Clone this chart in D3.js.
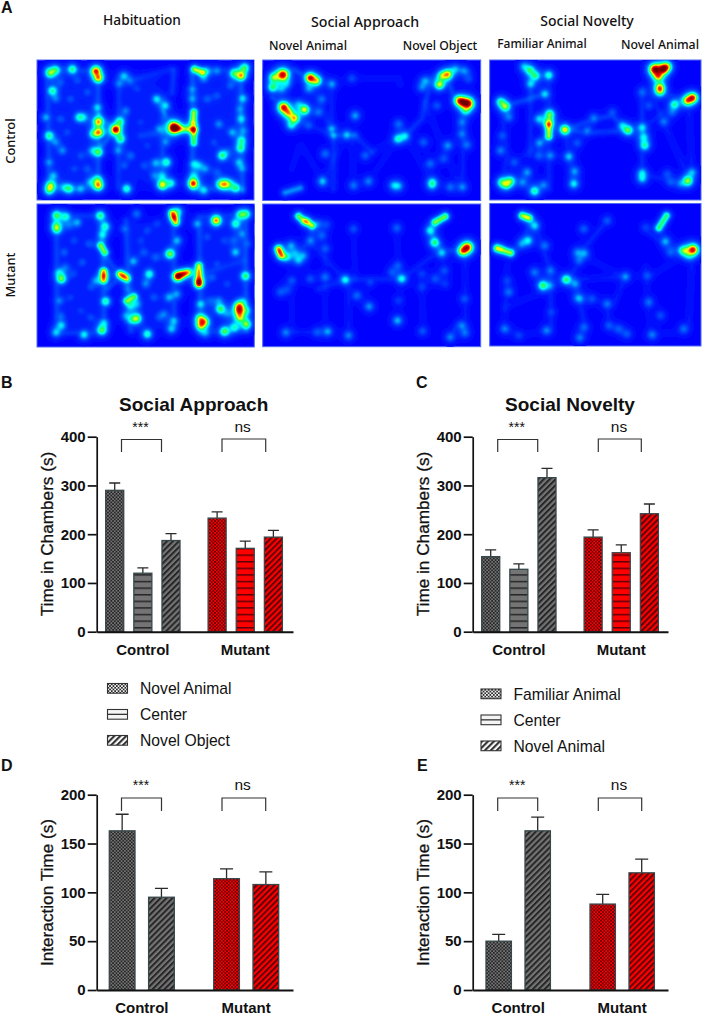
<!DOCTYPE html>
<html><head><meta charset="utf-8">
<style>html,body{margin:0;padding:0;background:#fff}svg{display:block}text{font-family:"Liberation Sans",Arial,sans-serif;fill:#111}.hl{font-family:"Noto Sans",sans-serif;font-weight:500}</style>
<script src="https://cdn.jsdelivr.net/npm/d3@7/dist/d3.min.js"></script>
</head><body><svg id="fig" width="702" height="1017" viewBox="0 0 702 1017"></svg>
<script>
// ---------- bar chart data ----------
const groups = ["Control", "Mutant"];
const seriesB = ["Novel Animal", "Center", "Novel Object"];
const seriesC = ["Familiar Animal", "Center", "Novel Animal"];
const seriesD = ["Novel Animal", "Novel Object"];
const seriesE = ["Familiar Animal", "Novel Animal"];
const kindsThree = ["check", "stripe", "diag"];
const kindsTwo = ["check", "diag"];
const controlB = [290, 120, 187], controlBTop = [305, 131, 201];
const mutantB = [233, 171, 194], mutantBTop = [246, 186, 208];
const controlC = [154, 128, 316], controlCTop = [168, 139, 335];
const mutantC = [194, 162, 242], mutantCTop = [209, 178, 262];
const controlD = [163, 95], controlDTop = [180, 104];
const mutantD = [114, 108], mutantDTop = [124, 121];
const controlE = [50, 163], controlETop = [57, 177];
const mutantE = [88, 120], mutantETop = [98, 134];
const ticksTimeChambers = [0, 100, 200, 300, 400];
const ticksInteraction = [0, 50, 100, 150, 200];

// ---------- heat map readings: spots [x, y, level, spread], paths [level, x1, y1, x2, y2, ...], zones [x0, y0, x1, y1, level] ----------
const habControlSpots = [[58,52,.6],[75,42,.45],[125,40,.55],[195,45,.9],[203,67,.78],[65,105,.52],[200,155,.35],[203,198,.82],[205,230,.7],[188,235,.42],[255,222,1],[268,197,.48],[270,250,.52],[203,290,.52],[145,185,.42],[55,240,.52],[45,185,.3],[60,390,.6],[55,405,.42],[115,400,.48],[203,390,.75],[200,372,.42],[150,400,.3],[288,400,.52],[395,388,.75],[422,383,.42],[488,384,1],[520,405,.36],[570,386,.52],[585,386,.6],[617,398,.48],[430,215,1.05,12],[610,53,.48],[632,60,.75],[643,35,.52],[575,300,.55],[630,278,.48],[633,255,.42],[408,320,.5],[375,322,.3],[637,128,.36],[632,190,.36],[280,60,.33],[160,185,.26],[95,285,.26],[75,260,.22],[55,320,.26],[68,360,.3],[100,395,.24],[178,380,.24],[185,285,.26],[120,130,.16],[90,190,.17],[150,300,.15],[265,85,.22],[300,75,.17],[285,165,.24],[262,285,.26],[300,300,.2],[280,330,.17],[378,130,.36],[405,150,.36],[385,220,.24],[405,260,.24],[395,360,.26],[370,360,.2],[340,330,.15],[485,130,.26],[485,100,.24],[490,325,.3],[505,330,.24],[490,360,.24],[565,205,.26],[605,230,.3],[530,130,.18],[525,340,.24],[625,320,.3],[635,340,.24],[600,385,.22],[640,225,.22],[628,160,.22],[560,45,.24],[530,45,.22],[520,70,.2],[90,80,.15],[140,75,.14],[170,110,.16],[110,230,.14],[130,340,.14],[170,340,.16],[75,130,.2],[330,200,.12],[350,270,.12],[320,100,.12],[560,120,.16],[590,290,.14],[560,350,.16],[550,260,.14],[600,90,.18]];
const habControlPaths = [[.58,432,218,488,222],[.7,490,170,488,200],[.58,490,222,490,262],[.72,492,40,515,50],[.12,430,45,425,110],[.11,48,40,55,410],[.13,203,40,203,395],[.15,485,50,485,400],[.13,632,45,637,405],[.1,48,42,200,45],[.1,52,400,200,400],[.09,485,45,635,42],[.12,490,400,635,402],[.18,205,180,255,222],[.16,205,285,250,225],[.09,265,60,262,395],[.1,400,130,395,395],[.15,255,222,205,235],[.12,425,210,378,130],[.09,330,240,420,225],[.07,300,75,420,40]];
const habControlZones = [[55,48,200,400,.07],[265,50,405,400,.06],[490,48,635,400,.07]];

const appControlSpots = [[73,57,1.1,11],[45,65,.55],[42,95,.55],[155,66,.98],[175,75,.68],[75,155,1,10],[90,172,.62],[108,188,.72],[98,210,.38],[138,162,.78],[543,87,.75],[568,56,.75],[550,60,.48],[600,134,.62],[630,143,1,10],[612,140,.68],[622,165,.36],[290,180,.32],[220,220,.3],[192,378,.36],[200,295,.24],[405,390,.3],[420,392,.3],[522,380,.36],[520,390,.3],[568,270,.3],[420,205,.24],[418,250,.42],[440,242,.33],[330,378,.26],[285,390,.24],[610,200,.24],[610,235,.24],[625,268,.24],[612,395,.26],[575,395,.24],[515,325,.24],[555,310,.18],[495,260,.21],[500,75,.3],[490,95,.24],[220,85,.3],[150,100,.26],[190,130,.24],[180,170,.24],[150,210,.18],[70,100,.24],[85,85,.21],[120,145,.24],[265,238,.33],[320,300,.21],[280,68,.16],[535,150,.19],[590,40,.26],[618,45,.24],[630,70,.16]];
const appControlPaths = [[.14,42,125,75,152],[.15,75,55,105,42,150,65],[.11,225,240,290,238],[.09,290,240,340,290],[.11,420,250,440,240,490,190,500,140,520,70,568,50,600,40,630,50],[.14,570,80,585,120,620,140],[.09,225,240,225,400],[.04,120,280,100,340],[.3,80,412,125,398],[.05,280,68,420,68,425,85],[.07,150,70,225,240],[.07,220,85,220,220],[.07,110,190,225,240],[.05,280,240,285,395],[.05,340,290,390,260,420,250],[.05,440,240,520,380],[.05,500,140,600,390],[.07,615,170,612,395],[.04,330,378,420,250],[.04,265,238,190,378],[.04,130,270,200,390]];
const appControlZones = [];

const novControlSpots = [[507,40,1.1,10],[533,40,.92],[545,32,.62],[518,62,.7],[523,95,.75],[523,108,.48],[622,126,.98],[605,135,.75],[567,146,.52],[133,43,.48],[150,60,.48],[190,58,.48],[115,32,.3],[45,138,.48],[60,153,.62],[193,175,.58],[190,198,.48],[238,222,.78],[428,224,.58],[478,270,.5],[475,245,.36],[470,215,.36],[147,407,.55],[75,376,.52],[62,388,.48],[48,380,.42],[607,376,.7],[620,350,.3],[470,352,.33],[470,370,.33],[265,385,.42],[268,347,.3],[250,303,.36],[162,262,.3],[195,300,.26],[160,190,.36],[135,85,.33],[178,115,.36],[70,185,.24],[45,285,.26],[50,240,.18],[125,350,.3],[112,380,.26],[175,388,.24],[86,320,.18],[160,300,.21],[305,225,.24],[325,187,.24],[380,170,.18],[410,210,.3],[535,198,.24],[560,170,.19],[470,110,.21],[490,150,.17],[545,355,.17],[585,385,.19],[555,380,.17],[275,262,.19]];
const novControlPaths = [[.7,190,210,190,242],[.14,60,150,130,130,175,115],[.12,238,222,330,190,380,180,428,224],[.12,240,222,300,232,420,225],[.08,190,60,190,400],[.08,135,45,135,300],[.07,45,140,65,300,50,380],[.05,50,390,175,390],[.1,470,100,470,370],[.06,500,120,610,370],[.06,610,150,620,350],[.1,530,110,600,135],[.07,490,360,610,390],[.08,238,222,265,385],[.06,470,220,560,150],[.06,150,60,135,100],[.05,90,320,190,240]];
const novControlZones = [];

const habMutantSpots = [[77,44,.52],[105,48,.42],[208,45,.52],[140,66,.3],[77,77,.48],[78,88,.36],[224,78,.45],[215,103,.36],[92,235,.62],[225,302,.52],[213,388,.58],[220,366,.3],[160,402,.42],[92,374,.36],[443,33,.36],[418,160,.7],[318,353,.68],[350,400,.52],[356,220,.48],[440,228,.72],[505,245,.62],[557,60,.95],[615,70,.48],[630,42,.48],[648,40,.42],[500,70,.3],[615,155,.36],[645,226,.58],[626,315,.68],[626,330,.72],[628,350,.58],[648,371,.62],[570,325,.58],[582,392,.62],[612,380,.42],[508,353,.52],[522,363,.62],[510,375,.58],[422,385,.33],[440,120,.33],[308,182,.33],[318,40,.24],[430,360,.3],[415,290,.3],[440,280,.26],[85,215,.3],[75,395,.3],[85,300,.24],[302,358,.24],[345,250,.24],[283,85,.21],[510,310,.36],[525,398,.24],[105,200,.17],[100,155,.19],[155,185,.17],[175,130,.17],[120,290,.12],[90,345,.18],[150,330,.12],[195,240,.24],[300,315,.3],[285,345,.24],[340,155,.17],[375,170,.19],[330,120,.12],[290,265,.19],[320,310,.24],[370,290,.17],[400,340,.21],[545,230,.18],[565,300,.21],[590,340,.18],[610,120,.17],[635,100,.24],[650,130,.17],[640,300,.19],[650,330,.26],[560,190,.14],[130,120,.14],[115,75,.16],[180,260,.14],[130,220,.12],[180,350,.14],[350,90,.14],[380,70,.13],[385,350,.14],[530,110,.15],[580,120,.13],[590,250,.14],[540,300,.15],[219,225,.3],[430,50,.35],[278,226,.3],[460,219,.3],[505,215,.15]];
const habMutantPaths = [[.66,210,135,222,155],[.72,219,212,219,238],[.72,425,38,436,65],[.72,268,220,288,233],[.58,288,300,310,288],[.72,445,225,472,215],[.68,505,195,505,250],[.11,75,40,78,400],[.11,215,45,222,395],[.09,75,45,215,45],[.09,75,398,215,395],[.11,285,60,300,390],[.1,430,60,432,385],[.12,505,65,510,395],[.12,645,45,648,385],[.09,505,48,650,42],[.09,510,395,650,390],[.13,228,170,262,218],[.13,232,262,265,232],[.11,480,215,505,195],[.06,530,215,640,180]];
const habMutantZones = [[78,48,225,395,.06],[285,55,435,395,.06],[505,50,650,395,.06]];

const appMutantSpots = [[85,170,.36],[98,135,.3],[515,90,.42],[528,126,.58],[627,140,1,10],[612,152,.72],[550,158,.36],[558,210,.18],[260,238,.4],[430,235,.42],[332,318,.3],[417,360,.36],[208,393,.3],[82,396,.26],[270,405,.26],[575,410,.24],[620,398,.21],[610,375,.24],[295,285,.24],[492,392,.18],[175,395,.18],[120,180,.3],[135,165,.26],[155,120,.24],[190,105,.21],[205,72,.14],[285,85,.17],[415,82,.21],[418,195,.18],[200,230,.24],[100,240,.18],[65,275,.18],[85,268,.14],[155,235,.18],[420,300,.14],[618,295,.18],[490,220,.14],[530,235,.18],[560,250,.12],[490,260,.14],[180,70,.17],[200,145,.19],[110,160,.21],[400,215,.17],[335,245,.14],[63,152,.28]];
const appMutantPaths = [[.68,120,47,135,60],[.7,148,66,160,75],[.74,60,145,68,165],[.7,530,65,560,48],[.08,260,238,430,235],[.1,75,170,160,125,160,75],[.06,80,395,210,395],[.12,515,90,550,150,620,150],[.07,530,160,430,235],[.06,260,238,160,130],[.08,260,238,180,265],[.06,270,240,270,405],[.05,420,235,415,90],[.04,100,260,100,390],[.06,620,170,620,400],[.1,600,370,575,410],[.05,490,250,495,390],[.04,285,90,290,230],[.04,200,140,200,390]];
const appMutantZones = [];

const novMutantSpots = [[148,75,.38],[128,120,.42],[172,255,.62],[242,237,.58],[623,147,1.02,10],[597,150,.36],[540,122,.33],[270,250,.26],[298,158,.26],[275,155,.24],[295,85,.21],[365,60,.18],[280,180,.18],[420,228,.26],[365,310,.24],[285,295,.21],[320,295,.18],[275,292,.18],[295,380,.21],[283,412,.26],[400,385,.18],[425,400,.18],[370,375,.18],[178,135,.24],[195,210,.24],[147,215,.26],[108,130,.24],[70,275,.24],[58,385,.24],[183,390,.26],[100,405,.14],[195,255,.21],[197,335,.14],[490,305,.24],[500,403,.26],[595,385,.24],[525,345,.18],[485,225,.18],[480,80,.14],[555,155,.21],[610,165,.24],[65,240,.14],[590,150,.24],[40,145,.15],[122,50,.12]];
const novMutantPaths = [[.7,110,45,130,52],[.72,35,143,75,157],[.62,520,82,543,45],[.08,242,237,280,190,298,140,365,60],[.06,242,237,420,230],[.05,280,160,420,230],[.06,420,230,385,310],[.08,270,250,300,380],[.06,365,310,370,375,425,405],[.05,60,320,170,275],[.1,130,80,100,140,75,155],[.08,150,80,195,210,197,390],[.05,65,200,55,385],[.05,55,385,110,405,185,390],[.08,485,90,550,140,620,150],[.05,480,200,495,400,600,395],[.06,620,170,610,370],[.05,490,230,570,180]];
const novMutantZones = [];

// ---------- text ----------
const columnTitles = ["Habituation", "Social Approach", "Social Novelty"];
const rowLabels = ["Control", "Mutant"];
const chamberLabels = ["Novel Animal", "Novel Object", "Familiar Animal", "Novel Animal"];

const svg = d3.select("#fig");
const defs = svg.append("defs");
defs.append("filter").attr("id", "soft").attr("x", "-5%").attr("y", "-5%").attr("width", "110%").attr("height", "110%")
  .append("feGaussianBlur").attr("stdDeviation", .55);

// ---------- fill patterns ----------
function addPatterns(id, bg, dark) {
  const c = defs.append("pattern").attr("id", id + "-check").attr("patternUnits", "userSpaceOnUse").attr("width", 3.4).attr("height", 3.4);
  c.append("rect").attr("width", 3.4).attr("height", 3.4).attr("fill", bg);
  c.append("rect").attr("width", 1.7).attr("height", 1.7).attr("fill", dark);
  c.append("rect").attr("x", 1.7).attr("y", 1.7).attr("width", 1.7).attr("height", 1.7).attr("fill", dark);
  const s = defs.append("pattern").attr("id", id + "-stripe").attr("patternUnits", "userSpaceOnUse").attr("width", 6).attr("height", 6.6);
  s.append("rect").attr("width", 6).attr("height", 6.6).attr("fill", bg);
  s.append("rect").attr("y", 0).attr("width", 6).attr("height", 1.5).attr("fill", dark);
  const d = defs.append("pattern").attr("id", id + "-diag").attr("patternUnits", "userSpaceOnUse").attr("width", 4.2).attr("height", 4.2).attr("patternTransform", "rotate(45)");
  d.append("rect").attr("width", 4.2).attr("height", 4.2).attr("fill", bg);
  d.append("rect").attr("width", 2).attr("height", 4.2).attr("fill", dark);
}
addPatterns("gray", "#747474", "#262626");
addPatterns("red", "#ff0000", "#5e0008");
addPatterns("white", "#f4f4f4", "#2a2a2a");

// ---------- heat maps ----------
const jet = d3.scaleLinear()
  .domain([0, .22, .45, .62, .82, 1.03, 1.15, 1.3])
  .range(["#0000ff", "#0060ff", "#00ffff", "#20ff60", "#ffff00", "#ff2000", "#d00000", "#700000"])
  .clamp(true);
const levels = d3.range(.02, 1.32, .02);
// a spot has a bright core and a wider soft skirt
const profile = (r2, sg) => .62 * Math.exp(-r2 / (2 * sg * sg)) + .38 * Math.exp(-r2 / (2 * 3.4 * sg * sg));

function heat(px, py, crop, spots, paths, zones) {
  const x0 = px[0], y0 = py[0];
  const n = Math.ceil(px[1] - px[0]) + 2, m = Math.ceil(py[1] - py[0]) + 2;
  const sx = d3.scaleLinear().domain([crop[0], crop[1]]).range([0, px[1] - px[0]]);
  const sy = d3.scaleLinear().domain([crop[2], crop[3]]).range([0, py[1] - py[0]]);
  const unit = sx(1) - sx(0);
  const vals = new Float64Array(n * m);
  const faint = new Float64Array(n * m);
  const g = svg.append("g").attr("transform", `translate(${x0},${y0})`);
  for (const z of zones) {
    const a = sx(z[0]), b = sx(z[2]), c = sy(z[1]), d = sy(z[3]);
    const edge = v => 1 / (1 + Math.exp(-v / 3));
    for (let j = 0; j < m; j++) for (let i = 0; i < n; i++)
      faint[i + j * n] += z[4] * edge(i - a) * edge(b - i) * edge(j - c) * edge(d - j);
  }
  for (const s of spots) {
    const cx = sx(s[0]), cy = sy(s[1]), sg = (s[3] || 9) * unit, R = Math.ceil(sg * 7);
    for (let j = Math.max(0, Math.floor(cy - R)); j < Math.min(m, cy + R); j++)
      for (let i = Math.max(0, Math.floor(cx - R)); i < Math.min(n, cx + R); i++)
        vals[i + j * n] += s[2] * profile((i - cx) ** 2 + (j - cy) ** 2, sg);
  }
  for (const p of paths) {
    const v = p[0], sg = 7 * unit, buf = new Float64Array(n * m);
    for (let k = 1; k + 3 < p.length; k += 2) {
      const ax = sx(p[k]), ay = sy(p[k + 1]), bx = sx(p[k + 2]), by = sy(p[k + 3]);
      const dx = bx - ax, dy = by - ay, L = dx * dx + dy * dy || 1, R = sg * 7;
      const i0 = Math.max(0, Math.floor(Math.min(ax, bx) - R)), i1 = Math.min(n, Math.max(ax, bx) + R);
      const j0 = Math.max(0, Math.floor(Math.min(ay, by) - R)), j1 = Math.min(m, Math.max(ay, by) + R);
      for (let j = j0; j < j1; j++) for (let i = i0; i < i1; i++) {
        const t = Math.max(0, Math.min(1, ((i - ax) * dx + (j - ay) * dy) / L));
        const qx = ax + t * dx - i, qy = ay + t * dy - j;
        const w = v * profile(qx * qx + qy * qy, sg);
        if (w > buf[i + j * n]) buf[i + j * n] = w;
      }
    }
    const target = v >= .35 ? vals : faint;
    for (let q = 0; q < target.length; q++) target[q] += buf[q];
  }
  // faint wall and trail wash sits under the spots, it does not heat them
  for (let q = 0; q < vals.length; q++) {
    const a = vals[q], b = faint[q];
    vals[q] = Math.max(a, b) + .35 * Math.min(a, b);
  }
  g.append("rect").attr("width", px[1] - px[0]).attr("height", py[1] - py[0])
    .attr("fill", "#0000ff").attr("stroke", "#4f6cf5").attr("stroke-width", 1);
  const clipId = "clip" + Math.round(x0) + Math.round(y0);
  defs.append("clipPath").attr("id", clipId).append("rect").attr("width", px[1] - px[0]).attr("height", py[1] - py[0]);
  g.append("g").attr("clip-path", `url(#${clipId})`).append("g").attr("filter", "url(#soft)").selectAll("path")
    .data(d3.contours().size([n, m]).thresholds(levels)(Array.from(vals)))
    .join("path").attr("d", d3.geoPath()).attr("fill", d => jet(d.value));
}
heat([37, 254], [60, 200], [20, 672, 14, 435], habControlSpots, habControlPaths, habControlZones);
heat([262.7, 480.7], [60, 200.5], [14, 668, 14, 437], appControlSpots, appControlPaths, appControlZones);
heat([489.7, 701], [60, 200], [14, 648, 14, 435], novControlSpots, novControlPaths, novControlZones);
heat([37, 254.3], [204, 347], [20, 673, 12, 440], habMutantSpots, habMutantPaths, habMutantZones);
heat([262.7, 480.7], [204, 346.7], [14, 668, 12, 440], appMutantSpots, appMutantPaths, appMutantZones);
heat([489.7, 701], [203.5, 346], [14, 648, 10, 438], novMutantSpots, novMutantPaths, novMutantZones);

// ---------- heat map labels ----------
const hl = (x, y, t, size, anchor = "middle", rot) => {
  const e = svg.append("text").attr("class", "hl").attr("font-size", size).attr("text-anchor", anchor).text(t);
  if (rot) e.attr("transform", `translate(${x},${y}) rotate(${rot})`); else e.attr("x", x).attr("y", y);
  return e;
};
hl(142, 25, columnTitles[0], 13.7);
hl(365, 27, columnTitles[1], 14.2);
hl(587, 26, columnTitles[2], 14);
hl(308, 50, chamberLabels[0], 12.3);
hl(440, 50, chamberLabels[1], 12.2);
hl(542, 48, chamberLabels[2], 12);
hl(660, 49, chamberLabels[3], 12.3);
hl(15, 141, rowLabels[0], 12.8, "middle", -90);
hl(15, 275, rowLabels[1], 12.8, "middle", -90);

const letter = (x, y, t) => svg.append("text").attr("x", x).attr("y", y).attr("font-size", 16).attr("font-weight", "bold").text(t);
letter(1, 13, "A"); letter(1, 388, "B"); letter(416, 388, "C"); letter(1, 771, "D"); letter(417, 771, "E");

// ---------- bar charts ----------
function barChart(o) {
  const g = svg.append("g");
  const y = d3.scaleLinear().domain(o.yDomain).range([o.y0, o.yTop]);
  const span = o.xEnd - o.axisX;
  const pi = 1 - o.groupW / o.step;
  const po = (span / o.step - (2 - pi)) / 2;
  const align = (o.groupL - o.axisX) / (span - o.step * (2 - pi));
  const x = d3.scaleBand().domain(groups).range([o.axisX, o.xEnd]).paddingInner(pi).paddingOuter(po).align(align);
  const inner = d3.scaleBand().domain(o.series).range([0, o.groupW]).paddingInner(1 - o.barW / o.barStep).paddingOuter(0);
  const rows = groups.flatMap((gr, gi) => o.series.map((s, si) => ({
    gr, s, kind: o.kinds[si], v: o.values[gi][si], top: o.tops[gi][si], color: gi ? "red" : "gray"
  })));
  const cell = g.selectAll("g.bar").data(rows).join("g").attr("class", "bar");
  const capW = o.capW;
  const cx = d => x(d.gr) + inner(d.s) + inner.bandwidth() / 2;
  cell.append("path").attr("d", d => `M${cx(d)},${y(d.v)}V${y(d.top)}M${cx(d) - capW / 2},${y(d.top)}H${cx(d) + capW / 2}`)
    .attr("stroke", "#2a2a2a").attr("stroke-width", 1.3).attr("fill", "none");
  cell.append("rect").attr("x", d => x(d.gr) + inner(d.s)).attr("y", d => y(d.v))
    .attr("width", inner.bandwidth()).attr("height", d => y(0) - y(d.v))
    .attr("fill", d => `url(#${d.color}-${d.kind})`).attr("stroke", "#37474a").attr("stroke-width", 1.3);

  const yAxis = d3.axisLeft(y).tickValues(o.ticks).tickSize(9).tickPadding(2).tickSizeOuter(0);
  const ya = g.append("g").attr("transform", `translate(${o.axisX},0)`).call(yAxis);
  ya.selectAll("text").attr("font-size", 15).attr("font-weight", "bold").style("font-family", '"Liberation Sans",Arial,sans-serif').attr("fill", "#111");
  ya.selectAll("line,path").attr("stroke", "#111").attr("stroke-width", 1.7);
  const xAxis = d3.axisBottom(x).tickSize(0).tickPadding(o.xPad).tickSizeOuter(0);
  const xa = g.append("g").attr("transform", `translate(0,${o.y0})`).call(xAxis);
  xa.selectAll("text").attr("font-size", 15).attr("font-weight", "bold").style("font-family", '"Liberation Sans",Arial,sans-serif').attr("fill", "#111");
  xa.select(".domain").attr("stroke", "#111").attr("stroke-width", 1.9);

  g.append("text").attr("transform", `translate(${o.titleX},${o.titleY}) rotate(-90)`)
    .attr("text-anchor", "middle").attr("font-size", 17.2).attr("stroke", "#111").attr("stroke-width", .3).text(o.yTitle);
  if (o.title) g.append("text").attr("x", o.headX).attr("y", o.headY).attr("text-anchor", "middle")
    .attr("font-size", 19).attr("font-weight", "bold").text(o.title);

  o.brackets.forEach(b => {
    g.append("path").attr("d", `M${b.x0},${b.yb}V${b.yt}H${b.x1}V${b.yb}`).attr("fill", "none").attr("stroke", "#333").attr("stroke-width", 1.2);
    g.append("text").attr("x", b.tx).attr("y", b.ty).attr("text-anchor", "middle").attr("font-size", b.fs).text(b.t);
  });

  if (o.legend) {
    const lg = g.selectAll("g.lg").data(o.series).join("g").attr("class", "lg")
      .attr("transform", (d, i) => `translate(${o.legend.x},${o.legend.y + i * 26})`);
    lg.append("rect").attr("width", 20).attr("height", 9.7)
      .attr("fill", (d, i) => o.kinds[i] === "stripe" ? "#f4f4f4" : `url(#white-${o.kinds[i]})`)
      .attr("stroke", "#333").attr("stroke-width", 1.1);
    lg.filter((d, i) => o.kinds[i] === "stripe").append("line").attr("x1", 0).attr("x2", 20).attr("y1", 4.85).attr("y2", 4.85).attr("stroke", "#333").attr("stroke-width", 1.3);
    lg.append("text").attr("x", o.legend.tx).attr("y", 10.8).attr("font-size", 15.7).text(d => d);
  }
}
barChart({ series: seriesB, kinds: kindsThree, values: [controlB, mutantB], tops: [controlBTop, mutantBTop], yDomain: [0, 400], ticks: ticksTimeChambers,
  y0: 631.7, yTop: 436.7, axisX: 96.7, xEnd: 293, groupL: 105.7, groupW: 74.3, step: 102.4, barW: 18, barStep: 28.1, capW: 11, xPad: 12.5,
  yTitle: "Time in Chambers (s)", titleX: 52.5, titleY: 534, title: "Social Approach", headX: 193.7, headY: 410.5,
  brackets: [{ x0: 121.5, x1: 161.5, yt: 439.5, yb: 452, tx: 140.5, ty: 432, fs: 14, t: "***" }, { x0: 222, x1: 265.7, yt: 439, yb: 452, tx: 242.7, ty: 432, fs: 15.5, t: "ns" }],
  legend: { x: 107.5, y: 683.5, tx: 32.5 } });
barChart({ series: seriesC, kinds: kindsThree, values: [controlC, mutantC], tops: [controlCTop, mutantCTop], yDomain: [0, 400], ticks: ticksTimeChambers,
  y0: 631.7, yTop: 436.7, axisX: 472.7, xEnd: 668, groupL: 481.7, groupW: 74.3, step: 102.4, barW: 18, barStep: 28.1, capW: 11, xPad: 12.5,
  yTitle: "Time in Chambers (s)", titleX: 428.5, titleY: 534, title: "Social Novelty", headX: 570, headY: 410.5,
  brackets: [{ x0: 497.7, x1: 537.7, yt: 439.5, yb: 452, tx: 516.7, ty: 432, fs: 14, t: "***" }, { x0: 598.3, x1: 641.3, yt: 439, yb: 452, tx: 619, ty: 432, fs: 15.5, t: "ns" }],
  legend: { x: 481, y: 689, tx: 32.5 } });
barChart({ series: seriesD, kinds: kindsTwo, values: [controlD, mutantD], tops: [controlDTop, mutantDTop], yDomain: [0, 200], ticks: ticksInteraction,
  y0: 990, yTop: 794.7, axisX: 96.7, xEnd: 293, groupL: 109.3, groupW: 65, step: 104.4, barW: 25.7, barStep: 39.3, capW: 13, xPad: 12.5,
  yTitle: "Interaction Time (s)", titleX: 52.5, titleY: 892.5,
  brackets: [{ x0: 121.5, x1: 161.5, yt: 798, yb: 811, tx: 141, ty: 790, fs: 14, t: "***" }, { x0: 222, x1: 265.7, yt: 798, yb: 811, tx: 242.7, ty: 790, fs: 15.5, t: "ns" }] });
barChart({ series: seriesE, kinds: kindsTwo, values: [controlE, mutantE], tops: [controlETop, mutantETop], yDomain: [0, 200], ticks: ticksInteraction,
  y0: 990, yTop: 794.7, axisX: 486 - 13.3, xEnd: 668, groupL: 486, groupW: 64.4, step: 104, barW: 25.4, barStep: 39, capW: 13, xPad: 12.5,
  yTitle: "Interaction Time (s)", titleX: 428.5, titleY: 892.5,
  brackets: [{ x0: 497.7, x1: 537.7, yt: 798, yb: 811, tx: 517.3, ty: 790, fs: 14, t: "***" }, { x0: 598.3, x1: 641.7, yt: 798, yb: 811, tx: 619, ty: 790, fs: 15.5, t: "ns" }] });
</script></body></html>
